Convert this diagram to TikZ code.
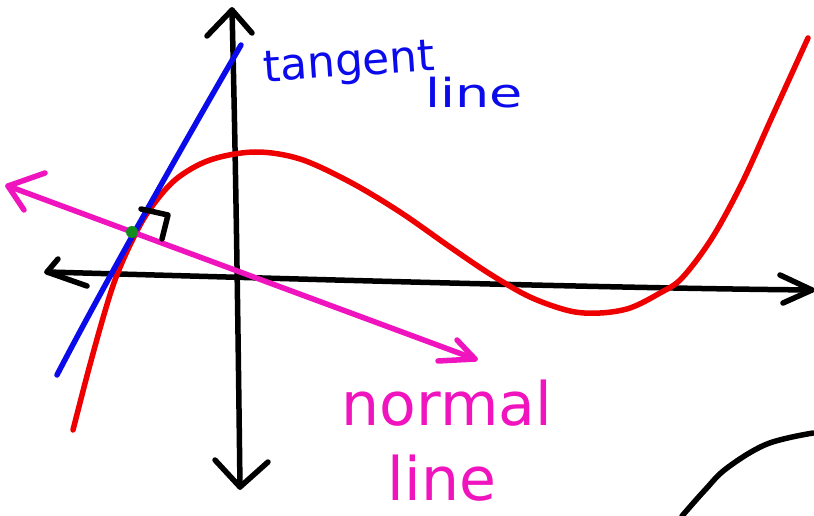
\documentclass[tikz,border=0pt]{standalone}
\usepackage{fontspec}
\setmainfont{DejaVu Sans}
\definecolor{cred}{RGB}{238,0,0}
\definecolor{cblue}{RGB}{10,10,235}
\definecolor{cmag}{RGB}{240,20,190}
\definecolor{cgreen}{RGB}{20,140,30}
\begin{document}
\begin{tikzpicture}[x=1pt,y=-1pt,
  pen/.style={line width=5.5pt,line cap=round,line join=round},
  axis/.style={pen,black},
  lbl/.style={inner sep=0pt,anchor=base}]
\useasboundingbox (0,0) rectangle (814,516);
% coordinates
\coordinate (xl) at (47,272);
\coordinate (xr) at (812,290);
\coordinate (yt) at (232,10);
\coordinate (yb) at (240,487);
\coordinate (nl) at (8,186);
\coordinate (nr) at (475,359);
\coordinate (tb) at (57,375);
\coordinate (tt) at (241,45);
\coordinate (P) at (132,232);
% axes
\draw[axis] (xl) .. controls (300,279) and (600,288) .. (xr);
\draw[axis] (58,259) -- (xl) -- (87,286);
\draw[axis] (780,275) -- (xr) -- (783,303);
\draw[axis] (yt) .. controls (236,170) and (238,330) .. (yb);
\draw[axis] (207,36) -- (yt) -- (252,33);
\draw[axis] (215,460) -- (yb) -- (268,462);
% red cubic
\draw[pen,cred] plot[smooth,tension=0.55] coordinates {(73,430) (88,372) (103,318) (115,280) (130,245) (148,212) (175,180) (210,160) (255,152) (300,159) (350,182) (400,212) (450,247) (490,274) (530,297) (570,311) (600,313) (630,308) (660,293) (682,278) (712,238) (742,183) (772,117) (808,38)};
% tangent line
\draw[pen,cblue] (tb) .. controls (100,292) and (180,150) .. (tt);
% normal line
\draw[pen,cmag] (nl) -- (nr);
\draw[pen,cmag] (45,173) -- (nl) -- (24,210);
\draw[pen,cmag] (457,340) -- (nr) -- (438,361);
% right angle mark
\draw[pen,black] (141,209) -- (168,215) -- (162,239);
% point
\fill[cgreen] (P) circle (6);
% labels
\node[lbl,cblue,rotate=4,font=\fontsize{44}{44}\selectfont] (tg) at (350,76) {tangent};
\node[lbl,cblue,xscale=1.35,font=\fontsize{40}{40}\selectfont] (tl) at (474,108) {line};
\node[lbl,cmag,font=\fontsize{60}{60}\selectfont] (nm) at (447,425) {normal};
\node[lbl,cmag,font=\fontsize{60}{60}\selectfont] (nln) at (442,500) {line};
% arc bottom right
\draw[pen,black] plot[smooth,tension=0.6] coordinates {(682,516) (705,490) (727,468) (767,444) (813,433)};
\end{tikzpicture}
\end{document}
